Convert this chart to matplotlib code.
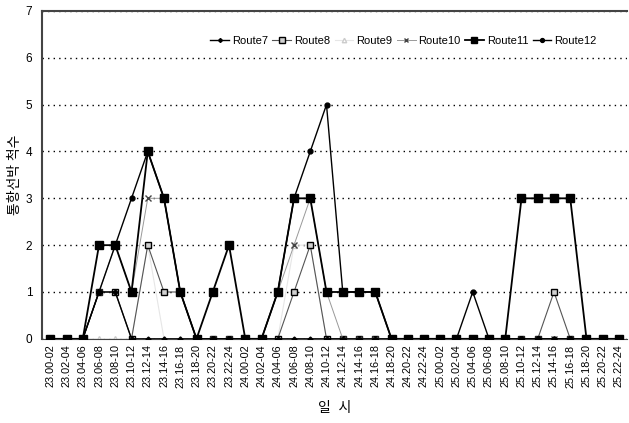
import numpy as np
import matplotlib.pyplot as plt

plt.rcParams['font.family'] = ['Liberation Sans', 'Noto Sans CJK KR', 'DejaVu Sans']

labels = ['23.00-02', '23.02-04', '23.04-06', '23.06-08', '23.08-10', '23.10-12',
          '23.12-14', '23.14-16', '23.16-18', '23.18-20', '23.20-22', '23.22-24',
          '24.00-02', '24.02-04', '24.04-06', '24.06-08', '24.08-10', '24.10-12',
          '24.12-14', '24.14-16', '24.16-18', '24.18-20', '24.20-22', '24.22-24',
          '25.00-02', '25.02-04', '25.04-06', '25.06-08', '25.08-10', '25.10-12',
          '25.12-14', '25.14-16', '25.16-18', '25.18-20', '25.20-22', '25.22-24']

route7 = [0, 0, 0, 1, 1, 0, 0, 0, 0, 0, 0, 0,
          0, 0, 0, 0, 0, 0, 0, 0, 0, 0, 0, 0,
          0, 0, 0, 0, 0, 0, 0, 0, 0, 0, 0, 0]
route8 = [0, 0, 0, 1, 1, 0, 2, 1, 1, 0, 0, 0,
          0, 0, 0, 1, 2, 0, 0, 0, 0, 0, 0, 0,
          0, 0, 0, 0, 0, 0, 0, 1, 0, 0, 0, 0]
route9 = [0, 0, 0, 0, 0, 0, 2, 0, 0, 0, 0, 0,
          0, 0, 0, 2, 2, 0, 0, 0, 0, 0, 0, 0,
          0, 0, 0, 0, 0, 0, 0, 0, 0, 0, 0, 0]
route10 = [0, 0, 0, 1, 2, 1, 3, 3, 1, 0, 0, 0,
           0, 0, 1, 2, 3, 1, 0, 0, 0, 0, 0, 0,
           0, 0, 0, 0, 0, 0, 0, 0, 0, 0, 0, 0]
route11 = [0, 0, 0, 2, 2, 1, 4, 3, 1, 0, 1, 2,
           0, 0, 1, 3, 3, 1, 1, 1, 1, 0, 0, 0,
           0, 0, 0, 0, 0, 3, 3, 3, 3, 0, 0, 0]
route12 = [0, 0, 0, 1, 2, 3, 4, 3, 1, 0, 0, 0,
           0, 0, 1, 3, 4, 5, 1, 1, 1, 0, 0, 0,
           0, 0, 1, 0, 0, 0, 0, 0, 0, 0, 0, 0]

x = np.arange(len(labels))

fig = plt.figure(figsize=(6.29, 4.23), dpi=100)
ax = fig.add_axes([0.067, 0.199, 0.93, 0.775])

# Route9 is drawn almost white, so it barely shows apart from its markers
ax.plot(x, route9, color='#e6e6e6', lw=0.8, marker='^', ms=4,
        mfc='white', mec='#cccccc', label='Route9', zorder=2)
ax.plot(x, route8, color='#555555', lw=0.8, marker='s', ms=5,
        mfc='#d0d0d0', mec='black', label='Route8', zorder=3)
ax.plot(x, route10, color='#999999', lw=0.7, marker='x', ms=4,
        mec='#444444', label='Route10', zorder=3)
ax.plot(x, route7, color='black', lw=1.0, marker='D', ms=2.5,
        label='Route7', zorder=4)
ax.plot(x, route11, color='black', lw=1.3, marker='s', ms=5.5,
        label='Route11', zorder=5)
ax.plot(x, route12, color='black', lw=1.0, marker='o', ms=3.5,
        label='Route12', zorder=6)

ax.set_xlim(-0.5, len(labels) - 0.5)
ax.set_ylim(0, 7)
ax.set_yticks(range(8))
ax.set_xticks(x)
ax.set_xticklabels(labels, rotation=90, fontsize=7.8)
ax.tick_params(axis='y', labelsize=8.5, length=0, pad=7)
ax.tick_params(axis='x', length=0, pad=4)
ax.yaxis.grid(True, linestyle=(0, (1, 3)), color='black', lw=1.0)
ax.set_axisbelow(True)

ax.spines['right'].set_visible(False)
for side in ['top', 'left', 'bottom']:
    ax.spines[side].set_color('#444444')
ax.spines['top'].set_linewidth(1.5)
ax.spines['left'].set_linewidth(1.5)

ax.set_ylabel('통항선박 척수', fontsize=10, labelpad=3)
ax.set_xlabel('일  시', fontsize=10, labelpad=10)

handles, names = ax.get_legend_handles_labels()
order = ['Route7', 'Route8', 'Route9', 'Route10', 'Route11', 'Route12']
handles = [handles[names.index(n)] for n in order]
ax.legend(handles, order, loc='upper right', bbox_to_anchor=(0.965, 0.955),
          ncol=6, frameon=False, fontsize=8, handlelength=1.7,
          handletextpad=0.25, columnspacing=0.4, markerscale=0.8)

fig.savefig('out.png', dpi=100)
